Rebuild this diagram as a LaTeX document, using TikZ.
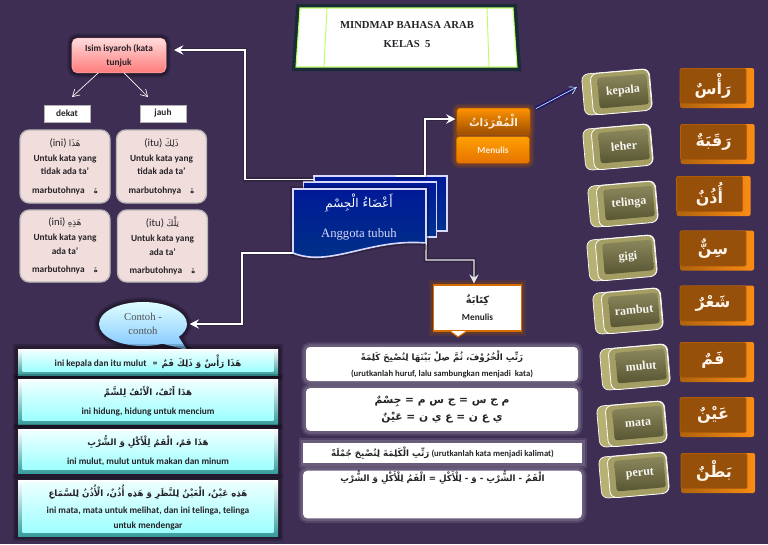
\documentclass[tikz,border=0pt]{standalone}
\usepackage{fontspec}
\setmainfont{Carlito}
\newfontfamily\arabicfont[Script=Arabic]{DejaVu Sans}
\newfontfamily\timesfont{Liberation Serif}
\TeXXeTstate=1
\usetikzlibrary{arrows.meta,shapes.callouts}
\newcommand{\arab}[2][6.5]{{\fontsize{#1}{#1}\selectfont\arabicfont\beginR #2\endR}}
\definecolor{pagebg}{RGB}{62,46,84}
\definecolor{inktext}{RGB}{38,34,40}
\definecolor{cardfill}{RGB}{241,222,220}
\definecolor{oliveedge}{RGB}{184,177,116}
\definecolor{olivemid}{RGB}{164,158,100}
\definecolor{oliveface}{RGB}{126,122,74}
\definecolor{orangeside}{RGB}{250,140,20}
\definecolor{orangeface}{RGB}{150,80,10}
\tikzset{
    halo/.style={preaction={draw=#1,line width=7pt,opacity=.18},preaction={draw=#1,line width=4pt,opacity=.25}},
    sans/.style={font=\fontsize{7}{9}\selectfont\bfseries,text=inktext,align=center,inner sep=0pt,outer sep=0pt},
    serif/.style={font=\fontsize{#1}{#1}\selectfont\timesfont,align=center,inner sep=0pt,outer sep=0pt},
    isyarahbox/.style={sans,rounded corners=4pt,top color=red!14,bottom color=red!52,draw=red!30,halo=black,minimum width=70.5pt,minimum height=26pt},
    tagbox/.style={sans,fill=white,draw=gray!60,minimum width=34.5pt,minimum height=12.75pt},
    cardbox/.style={sans,rounded corners=7pt,fill=cardfill,draw=gray!55,line width=1pt,minimum width=67.5pt},
    exbase/.style={top color=white,bottom color=black!30!cyan!55!gray,halo=black,inner sep=0pt,outer sep=0pt,minimum width=195pt},
    exface/.style={sans,top color=cyan!8,bottom color=cyan!38,minimum width=188pt},
    whitebox/.style={sans,fill=white,halo=white!60!pagebg,minimum width=204pt},
    pagebox/.style={top color=blue!55!black!90!cyan,bottom color=blue!45!black!80!cyan,draw=white!85!blue,line width=1.2pt,inner sep=0pt,outer sep=0pt,minimum width=100pt,minimum height=41pt},
    orangebox/.style={sans,rounded corners=2pt,draw=orange!70!black,text=orange!15,minimum width=55pt,minimum height=20pt,halo=orange!70!black},
    kitabahbox/.style={sans,fill=white,draw=orange!85!black,line width=1pt,minimum width=66pt,minimum height=34.5pt,halo=orange!60!black},
    olivebase/.style={rounded corners=5pt,fill=oliveedge,draw=white,line width=.5pt,minimum width=51pt,minimum height=31pt,inner sep=0pt,outer sep=0pt},
    olivemid/.style={rounded corners=5pt,fill=olivemid,draw=white,line width=.6pt,minimum width=44pt,minimum height=31pt,inner sep=0pt,outer sep=0pt},
    olivetop/.style={serif=9,font=\fontsize{9}{9}\selectfont\timesfont\bfseries,text=white!90!oliveedge,rounded corners=2pt,top color=oliveface!90!white,bottom color=oliveface!70!black,minimum width=37pt,minimum height=23pt},
    orangebase/.style={left color=orangeside!70!black,right color=orangeside,minimum width=55.5pt,minimum height=30pt,inner sep=0pt,outer sep=0pt,rounded corners=1.5pt},
    orangetop/.style={font=\fontsize{12}{12}\selectfont\bfseries,text=white!92!orange,fill=orangeface,draw=orangeface!70!orange,inner sep=0pt,outer sep=0pt,minimum width=49.5pt,minimum height=26.5pt,rounded corners=1pt},
    link/.style={->,>={Stealth[length=7pt,width=7pt,inset=2.5pt]},draw=white,line width=1.1pt,preaction={draw=black,line width=3.5pt,opacity=.2,-}},
    thinlink/.style={->,>={Straight Barb[length=5pt,width=6pt]},draw=white!85!pink,line width=.5pt},
}
\begin{document}
\begin{tikzpicture}[x=0.75pt,y=-0.75pt]
        \path[use as bounding box,fill=pagebg] (0, 0) rectangle (768, 544);

        % title
        \draw[fill=white,draw=green!45!yellow!60!white,line width=.8pt,preaction={draw=blue!45!green!30!black,line width=6pt,opacity=.6}] (300, 8) -- (513, 8) -- (517, 67) -- (296, 67) -- cycle;
        \draw[draw=green!45!yellow!60!white,line width=.7pt] (327, 8) -- (324, 67);
        \draw[draw=green!45!yellow!60!white,line width=.7pt] (487, 8) -- (489, 67);
        \draw (407, 25) node[serif=8,font=\fontsize{8}{8}\selectfont\timesfont\bfseries,text=inktext](judul){MINDMAP BAHASA ARAB};
        \draw (407, 44) node[serif=8,font=\fontsize{8}{8}\selectfont\timesfont\bfseries,text=inktext](kelas){KELAS\ \ 5};

        % isim isyarah
        \draw (119, 55.5) node[isyarahbox](isyarah){Isim isyaroh (kata\\[1.5pt]tunjuk};
        \draw (67, 113.5) node[tagbox](dekat){dekat};
        \draw (163, 113.5) node[tagbox](jauh){jauh};
        \coordinate (dekattip) at (72, 97);
        \coordinate (jauhtip) at (148, 97);
        \draw[thinlink] (isyarah.-140) -- (dekattip);
        \draw[thinlink] (isyarah.-74) -- (jauhtip);
        \draw (65, 166.5) node[cardbox,minimum height=54.75pt](hadza){\fontsize{8}{8}\selectfont\mdseries(ini) \arab{هَذَا}\\[2.5pt]Untuk kata yang\\[1pt]tidak ada ta'\\[5pt]marbutohnya\quad\arab[5]{ةَ}};
        \draw (161.5, 166.5) node[cardbox,minimum height=54.75pt](dzalika){\fontsize{8}{8}\selectfont\mdseries(itu) \arab{ذَلِكَ}\\[2.5pt]Untuk kata yang\\[1pt]tidak ada ta'\\[5pt]marbutohnya\quad\arab[5]{ةَ}};
        \draw (65, 246) node[cardbox,minimum height=54pt](hadzihi){\fontsize{8}{8}\selectfont\mdseries(ini) \arab{هَذِهِ}\\[2.5pt]Untuk kata yang\\[1pt]ada ta'\\[5pt]marbutohnya\quad\arab[5]{ةَ}};
        \draw (162.5, 246) node[cardbox,minimum height=54pt](tilka){\fontsize{8}{8}\selectfont\mdseries(itu) \arab{تِلْكَ}\\[2.5pt]Untuk kata yang\\[1pt]ada ta'\\[5pt]marbutohnya\quad\arab[5]{ةَ}};

        % contoh
        \draw (143, 324) node[ellipse callout,callout absolute pointer={(187, 350)},callout pointer arc=28,serif=8,text=gray!65!black,top color=cyan!12,bottom color=cyan!55!blue!50!white,minimum width=66pt,minimum height=33pt,halo=black](contoh){Contoh -\\[3pt]contoh};
        \draw (148, 362) node[exbase,minimum height=19.5pt](exabase){};
        \draw (148, 361.5) node[exface,minimum height=15.5pt](exa){ini kepala dan itu mulut\ \ \ =\ \ \arab[6.5]{هَذَا رَأْسٌ وَ ذَلِكَ فَمٌ}};
        \draw (148, 401.5) node[exbase,minimum height=33.75pt](exbbase){};
        \draw (148, 401) node[exface,minimum height=28.5pt](exb){\arab[6.5]{هَذَا أَنْفٌ، الْأَنْفُ لِلشَّمِّ}\\[5pt]ini hidung, hidung untuk mencium};
        \draw (148, 451) node[exbase,minimum height=33pt](excbase){};
        \draw (148, 450.5) node[exface,minimum height=28pt](exc){\arab[6.5]{هَذَا فَمٌ، الْفَمُ لِلْأَكْلِ وَ الشُّرْبِ}\\[5pt]ini mulut, mulut untuk makan dan minum};
        \draw (148, 508) node[exbase,minimum height=42pt](exdbase){};
        \draw (148, 507.5) node[exface,minimum height=37pt](exd){\arab[6.5]{هَذِهِ عَيْنٌ، الْعَيْنُ لِلنَّظَرِ وَ هَذِهِ أُذُنٌ، الْأُذُنُ لِلسَّمَاعِ}\\[4pt]ini mata, mata untuk melihat, dan ini telinga, telinga\\[2.5pt]untuk mendengar};

        % anggota tubuh
        \draw (380.5, 203.5) node[pagebox](anggotaback){};
        \draw (370, 209.5) node[pagebox](anggotamid){};
        \draw[top color=blue!55!black!90!cyan,bottom color=blue!40!black!80!cyan,draw=white!85!blue,line width=1.2pt,preaction={draw=black,line width=4pt,opacity=.25}] (293, 189) -- (426, 189) -- (426, 243) .. controls (370, 238) and (330, 268) .. (293, 253) -- cycle;
        \draw (359.5, 221) node[inner sep=0pt,outer sep=0pt,minimum width=100pt,minimum height=48pt](anggota){};
        \draw (359, 203) node[text=white,inner sep=0pt](anggotaar){\arab[9]{أَعْضَاءُ الْجِسْمِ}};
        \draw (359, 234) node[serif=9.5,text=white!85!blue](anggotateks){Anggota tubuh};

        % mufrodat dan kitabah
        \draw (493.5, 121.5) node[orangebox,top color=orange!85!yellow,bottom color=orange!60!black](mufrad){\arab[8]{الْمُفْرَدَاتُ}};
        \draw (493, 150) node[orangebox,top color=orange!75!yellow,bottom color=orange!90!black](menulisa){Menulis};
        \draw (477.5, 308) node[kitabahbox](kitabah){\arab[7.5]{كِتَابَةٌ}\\[4pt]Menulis};
        \draw[fill=white,draw=orange!85!black,line width=.8pt] (450, 331) -- (458, 337) -- (467, 331);

        % penghubung
        \coordinate (bendisyarah) at (245, 50);
        \coordinate (bendcontoh) at (242, 324);
        \coordinate (bendmufrad) at (425, 119);
        \coordinate (bendkitabah) at (426, 260);
        \coordinate (kitabahtop) at (474, 260);
        \coordinate (kepalatip) at (577, 87);
        \draw[link] (anggotaback.160) -| (bendisyarah) -- (bendisyarah -| isyarah.east) [shorten >=6pt];
        \draw[link,line width=1pt] (293, 253) -| (bendcontoh) -- (contoh.east) [shorten >=2pt];
        \draw[link,line width=1.4pt] (anggotaback.60) -| (bendmufrad) -- (bendmufrad -| mufrad.west) [shorten >=1pt];
        \draw[link,draw=white!80!gray,line width=.9pt] (anggota.south east |- 0, 243) -- (bendkitabah) -- (kitabahtop) -- (kitabah.north -| kitabahtop) [shorten >=1pt];
        \draw[thinlink,draw=white!80!cyan,line width=.5pt,shorten <=5pt,preaction={draw=blue!50!black,line width=3pt,opacity=.5,-}] (mufrad.15) -- (kepalatip);

        % kosakata
        \draw (617, 92) node[olivebase,rotate=5](kepalabase){};
        \draw (621, 92) node[olivemid,rotate=5](kepalamid){};
        \draw (623, 91) node[olivetop,rotate=5](kepala){kepala};
        \draw (618, 147) node[olivebase,rotate=5](leherbase){};
        \draw (622, 147) node[olivemid,rotate=5](lehermid){};
        \draw (624, 146) node[olivetop,rotate=5](leher){leher};
        \draw (623, 204) node[olivebase,rotate=5](telingabase){};
        \draw (627, 204) node[olivemid,rotate=5](telingamid){};
        \draw (629, 203) node[olivetop,rotate=5](telinga){telinga};
        \draw (622, 258) node[olivebase,rotate=5](gigibase){};
        \draw (626, 258) node[olivemid,rotate=5](gigimid){};
        \draw (628, 257) node[olivetop,rotate=5](gigi){gigi};
        \draw (628, 311) node[olivebase,rotate=5](rambutbase){};
        \draw (632, 311) node[olivemid,rotate=5](rambutmid){};
        \draw (634, 310) node[olivetop,rotate=5](rambut){rambut};
        \draw (635, 367) node[olivebase,rotate=5](mulutbase){};
        \draw (639, 367) node[olivemid,rotate=5](mulutmid){};
        \draw (641, 366) node[olivetop,rotate=5](mulut){mulut};
        \draw (632, 424) node[olivebase,rotate=5](matabase){};
        \draw (636, 424) node[olivemid,rotate=5](matamid){};
        \draw (638, 423) node[olivetop,rotate=5](mata){mata};
        \draw (634, 475) node[olivebase,rotate=5](perutbase){};
        \draw (638, 475) node[olivemid,rotate=5](perutmid){};
        \draw (640, 474) node[olivetop,rotate=5](perut){perut};

        \draw (717, 88) node[orangebase](rasbase){};
        \draw (713, 86) node[orangetop](ras){\arab[12]{رَأْسٌ}};
        \draw (717.5, 144) node[orangebase](raqabahbase){};
        \draw (713.5, 142) node[orangetop](raqabah){\arab[12]{رَقَبَةٌ}};
        \draw (713.5, 196) node[orangebase](udzunbase){};
        \draw (709.5, 194) node[orangetop](udzun){\arab[12]{أُذُنٌ}};
        \draw (717, 250.5) node[orangebase](sinbase){};
        \draw (713, 248.5) node[orangetop](sin){\arab[12]{سِنٌّ}};
        \draw (717, 305.5) node[orangebase](syarbase){};
        \draw (713, 303.5) node[orangetop](syar){\arab[12]{شَعْرٌ}};
        \draw (717, 362) node[orangebase](fambase){};
        \draw (713, 360) node[orangetop](fam){\arab[12]{فَمٌ}};
        \draw (717, 417) node[orangebase](ainbase){};
        \draw (713, 415) node[orangetop](ain){\arab[12]{عَيْنٌ}};
        \draw (718, 473) node[orangebase](bathnbase){};
        \draw (714, 471) node[orangetop](bathn){\arab[12]{بَطْنٌ}};

        % latihan
        \draw (442, 364) node[whitebox,rounded corners=3pt,minimum height=25.5pt](tartiba){\arab[6.5]{رَتِّبِ الْحُرُوْفَ، ثُمَّ صِلْ بَيْنَهَا لِتُصْبِحَ كَلِمَةً}\\[3pt]{\fontsize{6.5}{8}\selectfont(urutkanlah huruf, lalu sambungkan menjadi\ \ kata)}};
        \draw (442, 409.5) node[whitebox,rounded corners=3pt,minimum height=32pt](hurufa){\arab[8]{م ج س = ج س م = جِسْمٌ}\\[4pt]\arab[8]{ي ع ن = ع ي ن = عَيْنٌ}};
        \draw (442.5, 453) node[whitebox,minimum width=209pt,minimum height=15pt](tartibb){\arab[6.5]{رَتِّبِ الْكَلِمَةَ لِتُصْبِحَ جُمْلَةً} {\fontsize{6.5}{8}\selectfont(urutkanlah kata menjadi kalimat)}};
        \draw (442.5, 494.5) node[whitebox,rounded corners=3pt,minimum width=209pt,minimum height=34pt,anchor=center](jumlah){\arab[6.5]{الْفَمُ - الشُّرْبِ - وَ - لِلْأَكْلِ = الْفَمُ لِلْأَكْلِ وَ الشُّرْبِ}\\[16pt]\strut};
    \end{tikzpicture}
\end{document}
